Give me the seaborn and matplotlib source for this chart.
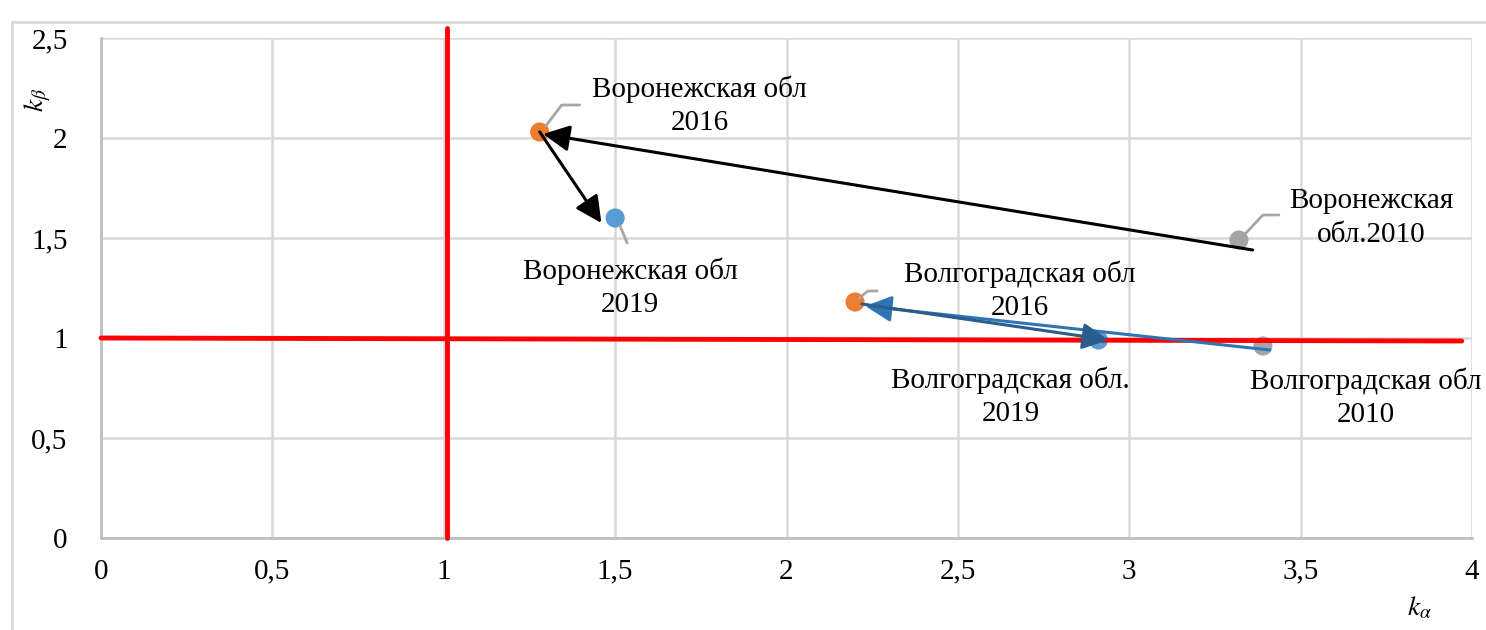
import numpy as np
import pandas as pd
import matplotlib
matplotlib.use('Agg')
import matplotlib.pyplot as plt
import seaborn as sns
from matplotlib.lines import Line2D
from matplotlib.patches import Rectangle
from matplotlib.transforms import IdentityTransform

sns.set_style('white')
plt.rcParams['font.family'] = ['Liberation Serif', 'DejaVu Serif']
plt.rcParams['mathtext.fontset'] = 'stix'
plt.rcParams['text.color'] = 'black'

# points (k_alpha, k_beta)
labels = ['Воронежская\nобл.2010', 'Воронежская обл\n2016', 'Воронежская обл\n2019',
          'Волгоградская обл\n2010', 'Волгоградская обл\n2016', 'Волгоградская обл.\n2019']
years = ['2010', '2016', '2019', '2010', '2016', '2019']
ka = [3.32, 1.28, 1.50, 3.39, 2.20, 2.91]
kb = [1.49, 2.03, 1.60, 0.96, 1.18, 0.99]

# trajectory arrows: start -> end
arrow_x0 = [3.36, 1.28, 3.41, 2.22]
arrow_y0 = [1.44, 2.03, 0.94, 1.17]
arrow_x1 = [1.29, 1.46, 2.23, 2.94]
arrow_y1 = [2.02, 1.575, 1.16, 0.99]
arrow_colors = ['black', 'black', '#2E75B6', '#2B5D8C']

df = pd.DataFrame({'ka': ka, 'kb': kb, 'year': years, 'label': labels})
palette = {'2010': '#A5A5A5', '2016': '#ED7D31', '2019': '#5B9BD5'}

fig = plt.figure(figsize=(14.86, 6.3), dpi=100)
fig.add_artist(Rectangle((12 / 1486, -0.01), 1.0, 1 - 22 / 630 + 0.01, transform=fig.transFigure,
                         fill=False, edgecolor='#d9d9d9', lw=2))
ax = fig.add_axes([101 / 1486, 92 / 630, 1371 / 1486, 500 / 630])

sns.scatterplot(data=df, x='ka', y='kb', hue='year', palette=palette, s=190,
                linewidth=0, legend=False, ax=ax, zorder=3)

ax.set_xlim(0, 4)
ax.set_ylim(0, 2.5)
ax.set_xticks(np.arange(0, 4.01, 0.5))
ax.set_yticks(np.arange(0, 2.51, 0.5))
fmt = lambda v: f'{v:g}'.replace('.', ',')
ax.set_xticklabels([fmt(v) for v in np.arange(0, 4.01, 0.5)])
ax.set_yticklabels([fmt(v) for v in np.arange(0, 2.51, 0.5)])
ax.tick_params(length=0, labelsize=21, labelcolor='black')
ax.tick_params(axis='x', pad=15)
ax.tick_params(axis='y', pad=24)
ax.set_xlabel('')
ax.set_ylabel('')
ax.grid(True, color='#d9d9d9', lw=1.8)
ax.set_axisbelow(True)
for s in ['top', 'right']:
    ax.spines[s].set_visible(False)
for s in ['left', 'bottom']:
    ax.spines[s].set_color('#bfbfbf')
    ax.spines[s].set_linewidth(2)

# threshold lines
ax.plot([1.01, 1.01], [0, 2.55], color='#FF0000', lw=3.5, clip_on=False, zorder=4)
ax.plot([0, 3.97], [1.0, 0.985], color='#FF0000', lw=3.5, clip_on=False, zorder=4)

# arrows
for x0, y0, x1, y1, c in zip(arrow_x0, arrow_y0, arrow_x1, arrow_y1, arrow_colors):
    ax.annotate('', xy=(x1, y1), xytext=(x0, y0),
                arrowprops=dict(arrowstyle='-|>,head_length=0.8,head_width=0.4', color=c,
                                lw=2.2, shrinkA=0, shrinkB=0, mutation_scale=20), zorder=5)

# data labels (pixel offsets)
label_dx = [132, 160, 15, 103, 165, -88]
label_dy = [22, 26, -70, -52, 11, -57]
for x, y, t, dx, dy in zip(ka, kb, labels, label_dx, label_dy):
    ax.annotate(t, (x, y), xytext=(dx, dy), textcoords='offset pixels',
                ha='center', va='center', fontsize=21, linespacing=1.35, zorder=6)

# leader lines
leaders = [[(7, 7), (24, 25), (40, 25)], [(6, 6), (22, 27), (40, 27)], [(5, -8), (12, -25)],
           None, [(4, 4), (13, 11), (22, 11)], None]
for x, y, path in zip(ka, kb, leaders):
    if path is None:
        continue
    cx, cy = ax.transData.transform((x, y))
    fig.add_artist(Line2D([cx + p[0] for p in path], [cy + p[1] for p in path],
                          transform=IdentityTransform(), color='#a6a6a6', lw=2))

fig.text(38 / 1486, 1 - 100 / 630, r'$k_\beta$', rotation=90, fontsize=20, ha='center', va='center')
fig.text(1420 / 1486, 1 - 608 / 630, r'$k_\alpha$', fontsize=20, ha='center', va='center')

fig.savefig('out.png', dpi=100)
